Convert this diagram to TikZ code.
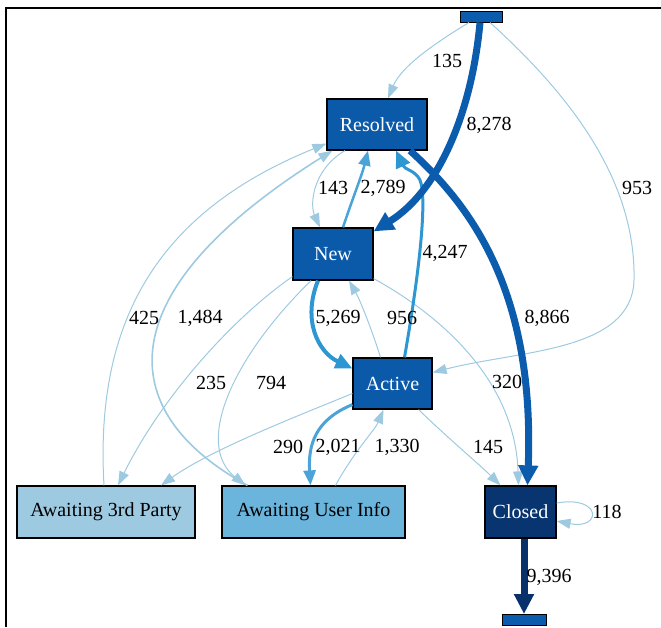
\documentclass[tikz,border=0pt]{standalone}
\usepackage{fontspec}
\setmainfont{Liberation Serif}
\usetikzlibrary{arrows.meta}

\definecolor{stateblue}{HTML}{0B5AAA}
\definecolor{closedblue}{HTML}{08346F}
\definecolor{waitlight}{HTML}{9ECAE1}
\definecolor{waitmid}{HTML}{6BB4DC}
\definecolor{edgelight}{HTML}{9ECAE1}
\definecolor{edgemid}{HTML}{4BA3D8}
\definecolor{edgestrong}{HTML}{2E97D2}
\definecolor{edgethick}{HTML}{0B5CAD}
\definecolor{edgedark}{HTML}{08306B}

\tikzset{
  state/.style={draw=black, line width=1.2pt, inner sep=0pt, minimum height=51pt,
    font=\fontsize{20}{24}\selectfont},
  darkstate/.style={state, fill=stateblue, text=white},
  terminal/.style={draw=black, line width=1pt, fill=edgethick, inner sep=0pt,
    minimum height=11pt},
  lbl/.style={font=\fontsize{20}{24}\selectfont, inner sep=0pt},
  thinedge/.style={draw=edgelight, line width=1pt,
    -{Triangle[length=14pt,width=10pt]}, edgelight},
  midedge/.style={draw=edgemid, line width=2.5pt,
    -{Triangle[length=15pt,width=12pt]}, edgemid},
  strongedge/.style={draw=edgestrong, line width=3.5pt,
    -{Triangle[length=17pt,width=15pt]}, edgestrong},
  thickedge/.style={line width=7pt, -{Triangle[length=20pt,width=19pt]}},
}

\begin{document}
\begin{tikzpicture}[x=1pt, y=-1pt]
  \useasboundingbox (0,0) rectangle (661,627);

  % frame
  \draw[line width=2pt] (5.5,627) -- (5.5,8) -- (661,8);

  % states
  \node[terminal, minimum width=42pt] (src) at (481,16.5) {};
  \node[terminal, minimum width=44pt] (snk) at (524,620) {};
  \node[darkstate, minimum width=100pt] (res) at (377,124.5) {Resolved};
  \node[darkstate, minimum width=80pt, minimum height=52pt] (new) at (333,254) {New};
  \node[darkstate, minimum width=79pt] (act) at (392.5,383.5) {Active};
  \node[state, fill=waitlight, minimum width=178pt, minimum height=52pt] (a3p) at (106,512) {Awaiting 3rd Party};
  \node[state, fill=waitmid, minimum width=183pt, minimum height=52pt] (aui) at (313.5,512) {Awaiting User Info};
  \node[state, fill=closedblue, text=white, minimum width=71pt, minimum height=52pt] (cls) at (520.5,512) {Closed};

  % light transitions
  \draw[thinedge] ([xshift=-12pt]src.south) .. controls (440,40) and (402,65) .. ([xshift=11pt]res.north);
  \draw[thinedge] ([xshift=9pt]src.south) .. controls (570,95) and (636,180) .. (634,280)
        .. controls (632,352) and (520,350) .. ([yshift=11pt]act.east);
  \draw[thinedge] ([xshift=-32pt]res.south) .. controls (312,170) and (310,205) .. ([xshift=-13pt]new.north);
  \draw[thinedge] ([xshift=-12pt]act.north) .. controls (372,330) and (360,300) .. ([xshift=16pt]new.south);
  \draw[thinedge] ([yshift=4pt]new.south west) .. controls (230,320) and (160,400) .. ([xshift=12pt]a3p.north);
  \draw[thinedge] ([xshift=-22pt]new.south) .. controls (230,360) and (195,445) .. ([xshift=-68pt]aui.north);
  \draw[thinedge] ([yshift=2pt]new.south east) .. controls (440,315) and (515,380) .. ([xshift=-2pt]cls.north);
  \draw[thinedge] ([yshift=-10pt]act.west) .. controls (300,415) and (210,450) .. ([xshift=55pt]a3p.north);
  \draw[thinedge] ([xshift=22pt]aui.north) .. controls (355,450) and (375,430) .. ([xshift=-9pt]act.south);
  \draw[thinedge] ([xshift=-14pt]act.south east) .. controls (450,440) and (480,465) .. ([xshift=-20pt]cls.north);
  \draw[thinedge] ([yshift=9pt]cls.east) .. controls (602,495) and (602,530) .. ([yshift=-9pt]cls.east);
  \draw[thinedge] ([xshift=-2pt]a3p.north) .. controls (95,330) and (150,215) .. ([yshift=7pt]res.south west);
  \draw[thinedge, line width=1.6pt] ([xshift=-66pt]aui.north) .. controls (110,410) and (110,290) .. ([xshift=6pt]res.south west);

  % medium transitions
  \draw[midedge] ([xshift=10pt]new.north) .. controls (352,200) and (362,175) .. ([xshift=-9pt]res.south);
  \draw[midedge, line width=3pt] ([yshift=5pt]act.south west) .. controls (315,420) and (308,445) .. ([xshift=-3pt]aui.north);
  \draw[strongedge, line width=3pt] ([xshift=12pt]act.north) .. controls (418,280) and (428,200) .. (420,180)
        .. controls (415,170) and (405,170) .. ([xshift=19pt]res.south);
  \draw[strongedge, line width=4pt] ([xshift=-15pt]new.south) .. controls (302,320) and (318,352) .. ([yshift=15pt]act.west);

  % heavy transitions
  \draw[thickedge, draw=edgethick, edgethick] ([xshift=-1pt]src.south) .. controls (472,110) and (440,190) .. ([yshift=-4pt]new.north east);
  \draw[thickedge, draw=edgethick, edgethick] ([xshift=33pt]res.south) .. controls (470,205) and (535,290) .. ([xshift=7pt]cls.north);
  \draw[thickedge, draw=edgedark, edgedark] (cls.south -| snk.north) -- (snk.north);

  % counts
  \node[lbl] (n135) at (447,61) {135};
  \node[lbl] (n8278) at (489,125) {8,278};
  \node[lbl] (n953) at (637,188) {953};
  \node[lbl] (n143) at (333,188) {143};
  \node[lbl] (n2789) at (383,188) {2,789};
  \node[lbl] (n4247) at (445,253) {4,247};
  \node[lbl] (n425) at (144,318) {425};
  \node[lbl] (n1484) at (200,318) {1,484};
  \node[lbl] (n5269) at (338,318) {5,269};
  \node[lbl] (n956) at (402,318) {956};
  \node[lbl] (n8866) at (547,318) {8,866};
  \node[lbl] (n235) at (211,383) {235};
  \node[lbl] (n794) at (271,383) {794};
  \node[lbl] (n320) at (507,382) {320};
  \node[lbl] (n290) at (288,447) {290};
  \node[lbl] (n2021) at (338,447) {2,021};
  \node[lbl] (n1330) at (397,447) {1,330};
  \node[lbl] (n145) at (488,447) {145};
  \node[lbl] (n118) at (607,512) {118};
  \node[lbl] (n9396) at (549,577) {9,396};
\end{tikzpicture}
\end{document}
